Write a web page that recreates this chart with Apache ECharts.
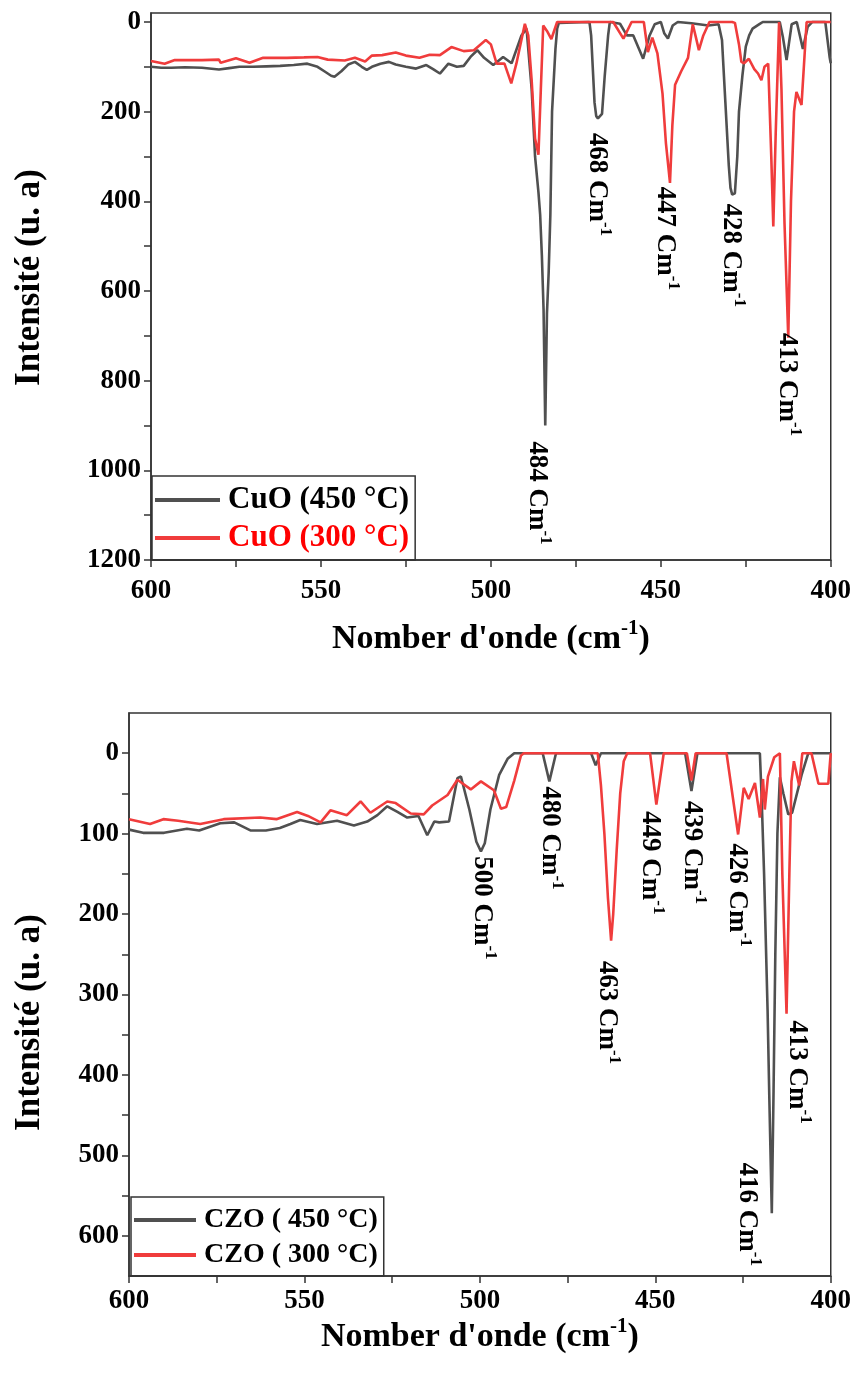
<!DOCTYPE html>
<html>
<head>
<meta charset="utf-8">
<title>FTIR CuO / CZO</title>
<script src="https://cdn.jsdelivr.net/npm/echarts@6.0.0/dist/echarts.min.js"></script>
<style>
  html, body { margin: 0; padding: 0; background: #fff; }
  #main { width: 854px; height: 1374px; }
</style>
</head>
<body>
<div id="main"></div>
<script>
// 数据 —— 从图上读出来的 [波数, 强度]
var cuo450 = [
  [600,100],[597,102],[594,102],[590,101],[585,102],[580,106],[577,103],[574,100],[570,100],[566,99],
  [562,98],[558,96],[554,93],[551,100],[549,110],[547,120],[546,122],[544,110],[542,95],[540,89],
  [538,100],[536.5,107],[535,100],[532.5,93],[530,89],[528,95],[525,100],[522,104],[519,96],[517,105],
  [515,115],[512.5,93],[510,100],[508,98],[506,78],[504,63],[502,80],[499.3,96],[496.4,78],[493.9,92],
  [491,30],[489.5,15],[488,150],[487,300],[486,380],[485.5,430],[485,520],[484.5,640],[484,900],[483.5,650],
  [483,560],[482.5,430],[482,200],[481,60],[480.5,15],[480,2],[471,0],[470.5,30],[469.5,180],[469,210],
  [468.5,215],[468,212],[467.3,205],[466.5,120],[465.5,30],[465,0],[462,4],[460,30],[458.1,30],[455.2,82],
  [453.3,30],[451.8,5],[450,0],[449,25],[447.9,37],[446.5,8],[445,0],[441,3],[436,8],[433,5],
  [432,40],[431,180],[430,320],[429.5,370],[429,385],[428.2,382],[427.5,300],[427,200],[426,120],[425,55],
  [424,30],[423,15],[421,5],[420,0],[415,0],[414.1,33],[413,85],[411.5,5],[410,0],[408.2,60],
  [406.8,11],[405.4,0],[401.6,0],[400.3,80],[400,92]
];
var cuo300 = [
  [600,87],[596,93],[593,85],[585,85],[580,84],[579.5,91],[575,81],[571,91],[567,80],[560,80],
  [555,79],[551,78],[548,84],[543,86],[540,80],[537,88],[535,75],[532,74],[528,68],[525,75],
  [521,80],[518,73],[515,74],[511.6,56],[508,65],[505,63],[501.5,40],[500,50],[498.3,93],[496,93],
  [494,137],[492.5,93],[490,4],[489,30],[488,130],[487,260],[486,296],[485.3,150],[484.6,8],[483.5,20],
  [482.2,38],[480.5,0],[464,0],[461,37],[458.6,0],[455,0],[453.8,67],[452.5,35],[451,70],[449.5,160],
  [448.5,270],[447.3,359],[446.6,230],[445.8,140],[444,110],[442,80],[440.6,5],[439.5,40],[438.8,63],[437.5,30],
  [435.7,0],[429,0],[428.2,2],[427,50],[426.3,89],[425.5,92],[424.1,82],[422.5,105],[421.4,115],[420.4,130],
  [419.5,100],[418.4,93],[417.5,300],[416.9,456],[416.2,250],[415.2,0],[414.5,150],[413.6,450],[412.5,704],[411.7,400],
  [410.8,200],[410.1,156],[408.6,185],[407.1,0],[400,0]
];
var czo450 = [
  [600,95],[596,99],[590,99],[583.5,94],[580,96],[574,87],[570,86],[565.4,96],[561,96],[557,93],
  [554,88],[551.2,83],[546.4,88],[540.7,84],[535.9,90],[532.1,85],[529.2,77],[526.4,66],[523.5,73],[520.7,80],
  [517.5,78],[515,102],[513,85],[511.6,86],[508.8,85],[506.4,31],[505.4,29],[503,70],[501,110],[499.7,122],
  [498.6,112],[497,70],[494.5,27],[492.1,7],[490.2,0],[482.1,0],[480.2,35],[478.3,0],[468.3,0],[467,15],
  [465.5,0],[441.5,0],[439.7,47],[438,0],[420.2,0],[419.7,55],[419,150],[418,320],[417.5,430],[416.8,572],
  [416.3,420],[415.8,250],[415.2,100],[414.5,30],[413.5,50],[412.1,76],[411,74],[408.3,27],[406.4,0],[400,0]
];
var czo300 = [
  [600,82],[594,88],[590.2,82],[586,84],[579.7,88],[573,82],[562.6,80],[558,82],[552.1,73],[549,78],
  [545.4,86],[542.6,71],[537.9,77],[534,60],[531.2,74],[526.4,60],[524,62],[519.7,75],[516,76],[513.6,65],
  [509.2,52],[506.4,33],[502.6,45],[499.7,35],[496,46],[494,69],[492.5,67],[490.2,34],[488.3,3],[487.5,0],
  [466.4,0],[465.5,40],[464.5,101],[463.5,180],[462.6,233],[462,200],[461,120],[460,50],[459,10],[458,0],
  [451.5,0],[449.7,64],[447.6,0],[441,0],[439.7,34],[438.5,0],[429.7,0],[426.4,101],[424.8,43],[423.4,57],
  [421.6,37],[420.2,80],[419.3,32],[418.8,70],[417.9,29],[416.1,5],[414.5,0],[413.8,150],[412.6,324],[411.8,150],
  [411.2,35],[410.5,10],[409,40],[408.1,0],[405.5,0],[403.5,38],[400.7,38],[400,0]
];

// 图例名称
var namesTop = ['CuO (450 °C)', 'CuO (300 °C)'];
var namesBottom = ['CZO ( 450 °C)', 'CZO ( 300 °C)'];

// 刻度
var wnTicks = [400, 425, 450, 475, 500, 525, 550, 575, 600];
var wnLabels = [400, 450, 500, 550, 600];
var cuoTicks = [0, 100, 200, 300, 400, 500, 600, 700, 800, 900, 1000, 1100, 1200];
var cuoLabels = [0, 200, 400, 600, 800, 1000, 1200];
var czoTicks = [0, 50, 100, 150, 200, 250, 300, 350, 400, 450, 500, 550, 600];
var czoLabels = [0, 100, 200, 300, 400, 500, 600];

// 峰的标注：文字起点（数据坐标）
var cuoPeakText = ['484', '468', '447', '428', '413'];
var cuoPeakX = [486, 468.2, 448.2, 428.8, 412.4];
var cuoPeakY = [935, 247, 367, 405, 693];
var czoPeakText = ['500', '480', '463', '449', '439', '426', '413', '416'];
var czoPeakX = [498.9, 479.7, 463.4, 451.1, 439.1, 426.3, 409.1, 423.4];
var czoPeakY = [128, 41, 258, 72, 59, 112, 332, 509];

(function () {
  var FONT = 'Liberation Serif';
  var GRAY = '#505050';
  var RED = '#f03c3c';
  var myChart = echarts.init(document.getElementById('main'));

  function xAxisOf(gridIndex, gap, margin, size) {
    return {
      gridIndex: gridIndex, type: 'value', inverse: true, min: 400, max: 600,
      axisLine: { show: true, onZero: false, lineStyle: { color: '#333', width: 1.5 } },
      axisTick: { show: true, inside: false, length: 7, customValues: wnTicks, lineStyle: { color: '#333', width: 1.5 } },
      axisLabel: { customValues: wnLabels, fontSize: 27, fontWeight: 'bold', fontFamily: FONT, color: '#000', margin: margin },
      splitLine: { show: false },
      name: '{t|Nomber d\'onde (cm}{s|-1}{t|)}',
      nameLocation: 'middle', nameGap: gap,
      nameTextStyle: {
        rich: {
          t: { fontSize: size, fontWeight: 'bold', fontFamily: FONT, color: '#000', lineHeight: size + 4, verticalAlign: 'bottom' },
          s: { fontSize: 21, fontWeight: 'bold', fontFamily: FONT, color: '#000', lineHeight: 21, verticalAlign: 'top' }
        }
      }
    };
  }

  function yAxisOf(gridIndex, min, max, ticks, labels, gap, pad) {
    return {
      gridIndex: gridIndex, type: 'value', inverse: true, min: min, max: max,
      axisLine: { show: true, onZero: false, lineStyle: { color: '#333', width: 1.5 } },
      axisTick: { show: true, inside: false, length: 7, customValues: ticks, lineStyle: { color: '#333', width: 1.5 } },
      axisLabel: {
        customValues: labels, fontSize: 27, fontWeight: 'bold', fontFamily: FONT, color: '#000', margin: 10,
        formatter: function (v) { return String(v); }
      },
      splitLine: { show: false },
      name: 'Intensité (u. a)', nameLocation: 'middle', nameGap: gap, nameRotate: 90,
      nameTextStyle: { fontSize: 35, fontWeight: 'bold', fontFamily: FONT, color: '#000', padding: pad }
    };
  }

  function legendOf(names, left, top, colors, size, lh, gap, iconW) {
    return {
      data: names.map(function (n, i) { return { name: n, textStyle: { color: colors[i] } }; }),
      orient: 'vertical', left: left, top: top,
      icon: 'rect', itemWidth: iconW, itemHeight: 4, itemGap: gap,
      padding: [8, 6, 6, 3],
      borderColor: '#333', borderWidth: 1.5,
      textStyle: { fontSize: size, lineHeight: lh, fontWeight: 'bold', fontFamily: FONT, color: '#000', padding: [0, 0, 0, 3] }
    };
  }

  function lineOf(name, data, color, idx) {
    return {
      name: name, type: 'line', data: data, xAxisIndex: idx, yAxisIndex: idx,
      symbol: 'none', showSymbol: false, color: color,
      lineStyle: { color: color, width: 2.6 }
    };
  }

  var option = {
    backgroundColor: '#fff',
    animation: false,
    grid: [
      { left: 151, top: 13, width: 680, height: 547, show: true, borderColor: '#333', borderWidth: 1.5 },
      { left: 129, top: 713, width: 702, height: 563, show: true, borderColor: '#333', borderWidth: 1.5 }
    ],
    xAxis: [xAxisOf(0, 58, 18, 34), xAxisOf(1, 38, 12, 34)],
    yAxis: [
      yAxisOf(0, -20, 1200, cuoTicks, cuoLabels, 104, [0, 0, 0, 18]),
      yAxisOf(1, -50, 650, czoTicks, czoLabels, 82, [0, 56, 0, 0])
    ],
    legend: [
      legendOf(namesTop, 152, 476, ['#000', '#ff0000'], 31, 32, 6, 65),
      legendOf(namesBottom, 131, 1197, ['#000', '#000'], 28, 30, 5, 62)
    ],
    series: [
      lineOf(namesTop[0], cuo450, GRAY, 0),
      lineOf(namesTop[1], cuo300, RED, 0),
      lineOf(namesBottom[0], czo450, GRAY, 1),
      lineOf(namesBottom[1], czo300, RED, 1)
    ]
  };
  myChart.setOption(option);

  // 旋转的峰值标注，位置通过坐标系换算
  var rich = {
    n: { fontSize: 27, fontWeight: 'bold', fontFamily: FONT, fill: '#000', lineHeight: 30, verticalAlign: 'bottom' },
    s: { fontSize: 17, fontWeight: 'bold', fontFamily: FONT, fill: '#000', lineHeight: 17, verticalAlign: 'top' }
  };
  var graphics = [];
  function addPeaks(texts, xs, ys, gridIndex) {
    texts.forEach(function (t, i) {
      var p = myChart.convertToPixel({ gridIndex: gridIndex }, [xs[i], ys[i]]);
      graphics.push({
        type: 'text', x: p[0], y: p[1], rotation: -Math.PI / 2, z: 100,
        style: { text: '{n|' + t + ' Cm}{s|-1}', rich: rich, align: 'left', verticalAlign: 'middle' }
      });
    });
  }
  addPeaks(cuoPeakText, cuoPeakX, cuoPeakY, 0);
  addPeaks(czoPeakText, czoPeakX, czoPeakY, 1);
  myChart.setOption({ graphic: graphics });

  window.addEventListener('resize', function () {
    myChart.resize();
  });
})();
</script>
</body>
</html>
